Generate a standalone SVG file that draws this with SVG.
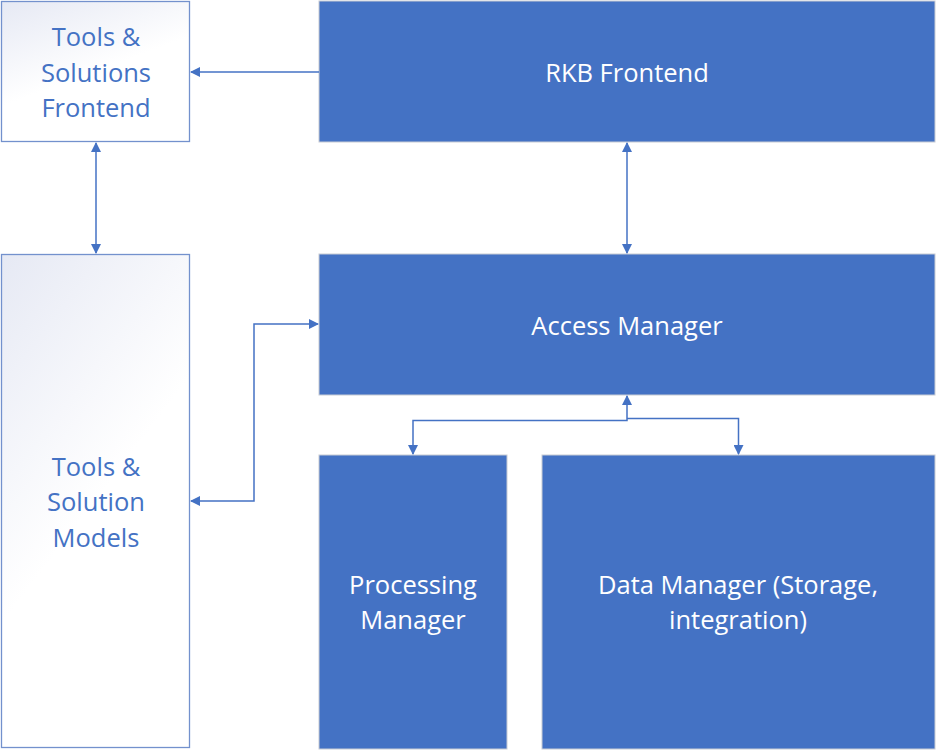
<svg xmlns="http://www.w3.org/2000/svg" width="936" height="750" viewBox="0 0 936 750">
<defs>
<linearGradient id="lg" x1="0" y1="0" x2="0.5" y2="1">
<stop offset="0" stop-color="#E6E9F4"/>
<stop offset="0.6" stop-color="#FFFFFF"/>
<stop offset="1" stop-color="#FFFFFF"/>
</linearGradient>
<marker id="ah" viewBox="0 0 10 10" refX="9" refY="5" markerWidth="10" markerHeight="10" markerUnits="userSpaceOnUse" orient="auto-start-reverse">
<path d="M0,0 L10,5 L0,10 z" fill="#4472C4"/>
</marker>
<style>
.light{fill:url(#lg);stroke:#7391CD;stroke-width:1.3}
.dark{fill:#4472C4;stroke:#C8CCD4;stroke-width:1}
.lt{font-family:"Open Sans","Liberation Sans",sans-serif;font-size:25.5px;fill:#4472C4;text-anchor:middle;dominant-baseline:central}
.dt{font-family:"Open Sans","Liberation Sans",sans-serif;font-size:25.5px;fill:#FFFFFF;text-anchor:middle;dominant-baseline:central}
.c{fill:none;stroke:#4472C4;stroke-width:1.5}
</style>
</defs>
<g id="tools-frontend">
<rect class="light" x="1.5" y="1.5" width="188" height="140"/>
<text class="lt" x="96" y="36">Tools &amp;</text>
<text class="lt" x="96" y="72">Solutions</text>
<text class="lt" x="96" y="107">Frontend</text>
</g>
<g id="rkb-frontend">
<rect class="dark" x="319" y="1" width="616" height="141"/>
<text class="dt" x="627" y="72">RKB Frontend</text>
</g>
<g id="tools-models">
<rect class="light" x="1.5" y="254.5" width="188" height="493"/>
<text class="lt" x="96" y="466">Tools &amp;</text>
<text class="lt" x="96" y="501">Solution</text>
<text class="lt" x="96" y="537">Models</text>
</g>
<g id="access-manager">
<rect class="dark" x="319" y="254" width="616" height="141"/>
<text class="dt" x="627" y="325">Access Manager</text>
</g>
<g id="processing-manager">
<rect class="dark" x="319" y="455" width="188" height="294"/>
<text class="dt" x="413" y="584">Processing</text>
<text class="dt" x="413" y="619">Manager</text>
</g>
<g id="data-manager">
<rect class="dark" x="542" y="455" width="393" height="294"/>
<text class="dt" x="738" y="584">Data Manager (Storage,</text>
<text class="dt" x="738" y="619">integration)</text>
</g>
<g id="connectors">
<path class="c" d="M319,72 H191" marker-end="url(#ah)"/>
<path class="c" d="M96,143 V253" marker-start="url(#ah)" marker-end="url(#ah)"/>
<path class="c" d="M627,143 V253" marker-start="url(#ah)" marker-end="url(#ah)"/>
<path class="c" d="M191,501 H254 V324 H318" marker-start="url(#ah)" marker-end="url(#ah)"/>
<path class="c" d="M627,396 V420.5 H413 V454" marker-start="url(#ah)" marker-end="url(#ah)"/>
<path class="c" d="M627,418.5 H738.5 V454" marker-end="url(#ah)"/>
</g>
</svg>
